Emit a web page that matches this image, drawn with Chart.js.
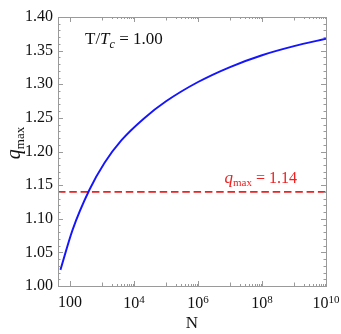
<!DOCTYPE html>
<html>
<head>
<meta charset="utf-8">
<script src="https://cdn.jsdelivr.net/npm/chart.js@4/dist/chart.umd.min.js"></script>
<style>
html,body{margin:0;padding:0;background:#fff;}
#wrap{position:relative;width:341px;height:334px;}
</style>
</head>
<body>
<div id="wrap"><canvas id="c" width="341" height="334"></canvas></div>
<script>
// ---- data ----
const nValues = [50, 120, 400, 1200, 4000, 2e4, 1e5, 1e6, 1e7, 1e8, 1e9, 1e10];
const qValues = [1.024, 1.0835, 1.1427, 1.1833, 1.2165, 1.2488, 1.2746, 1.3033, 1.3256, 1.3431, 1.3566, 1.3676];
const qThreshold = 1.14;
const xMin = 42, xMax = 1e10;
const yMin = 1.00, yMax = 1.40, yStep = 0.05;
const xTickValues = [100, 1e4, 1e6, 1e8, 1e10];
const xTickBase = ['100', '10', '10', '10', '10'];
const xTickExp = ['', '4', '6', '8', '10'];
const tempLabel = '1.00';

const serif = '"Liberation Serif", "Times New Roman", serif';
const RED = '#ee2020';
const FRAME = '#9a9a9a';
const TEXT = '#111';

function setFont(ctx, size, italic) {
  ctx.font = (italic ? 'italic ' : '') + size + 'px ' + serif;
}
function drawRich(ctx, parts, x, y) {
  let cx = x;
  for (const p of parts) {
    setFont(ctx, p[1], p[2]);
    ctx.fillText(p[0], cx, y + (p[3] || 0));
    cx += ctx.measureText(p[0]).width;
  }
  return cx - x;
}
function richWidth(ctx, parts) {
  let w = 0;
  for (const p of parts) {
    setFont(ctx, p[1], p[2]);
    w += ctx.measureText(p[0]).width;
  }
  return w;
}

const framePlugin = {
  id: 'framePlugin',
  afterDraw(chart) {
    const ctx = chart.ctx;
    const a = chart.chartArea;
    const xs = chart.scales.x, ys = chart.scales.y;
    ctx.save();
    ctx.strokeStyle = FRAME;
    ctx.lineWidth = 1;
    ctx.strokeRect(Math.round(a.left) + 0.5, Math.round(a.top) + 0.5, Math.round(a.right - a.left), Math.round(a.bottom - a.top));
    ctx.beginPath();
    // y ticks (major every 0.05, minor every 0.01)
    for (let k = 0; k <= Math.round((yMax - yMin) / 0.01); k++) {
      const v = yMin + k * 0.01;
      const len = (k % 5 === 0) ? 5 : 2.5;
      const py = Math.round(ys.getPixelForValue(v)) + 0.5;
      ctx.moveTo(a.left, py); ctx.lineTo(a.left + len, py);
      ctx.moveTo(a.right, py); ctx.lineTo(a.right - len, py);
    }
    // x ticks
    const xt = [];
    xTickValues.forEach(v => xt.push([v, 5]));
    for (const e of [3, 5, 7, 9]) {
      xt.push([Math.pow(10, e), 3.5]);
      for (let m = 2; m <= 9; m++) xt.push([m * Math.pow(10, e), 2]);
    }
    for (const [v, len] of xt) {
      if (v < xMin || v > xMax) continue;
      const px = Math.round(xs.getPixelForValue(v)) + 0.5;
      ctx.moveTo(px, a.bottom); ctx.lineTo(px, a.bottom - len);
      ctx.moveTo(px, a.top); ctx.lineTo(px, a.top + len);
    }
    ctx.stroke();

    ctx.textBaseline = 'alphabetic';
    ctx.textAlign = 'left';
    ctx.fillStyle = TEXT;
    // x tick labels
    xTickValues.forEach((v, i) => {
      const px = xs.getPixelForValue(v);
      if (!xTickExp[i]) {
        setFont(ctx, 16, false);
        const w = ctx.measureText(xTickBase[i]).width;
        ctx.fillText(xTickBase[i], px - w / 2, a.bottom + 20.5);
      } else {
        const parts = [[xTickBase[i], 16, false, 0], [xTickExp[i], 11, false, -5.5]];
        const w = richWidth(ctx, parts);
        drawRich(ctx, parts, px - w / 2, a.bottom + 22);
      }
    });

    // temperature annotation
    drawRich(ctx, [['T/', 17, false], ['T', 17, true], ['c', 12, true, 4], [' = ' + tempLabel, 17, false]], 85, 43.5);

    // threshold annotation
    ctx.fillStyle = RED;
    const redParts = [['q', 17, true], ['max', 11, false, 3], [' = ' + qThreshold.toFixed(2), 16, false]];
    const rw = richWidth(ctx, redParts);
    drawRich(ctx, redParts, 297 - rw, 183);

    // y axis title
    ctx.fillStyle = TEXT;
    const yParts = [['q', 20, true], ['max', 13, false, 3.5]];
    const yw = richWidth(ctx, yParts);
    ctx.translate(20, 143);
    ctx.rotate(-Math.PI / 2);
    drawRich(ctx, yParts, -yw / 2, 0);
    ctx.restore();
  }
};

new Chart(document.getElementById('c'), {
  type: 'line',
  data: {
    datasets: [
      {
        data: nValues.map((n, i) => ({ x: n, y: qValues[i] })),
        borderColor: '#1414ff',
        borderWidth: 1.9,
        pointRadius: 0,
        cubicInterpolationMode: 'monotone',
        fill: false
      },
      {
        data: [{ x: xMin, y: qThreshold }, { x: xMax, y: qThreshold }],
        borderColor: RED,
        borderWidth: 1.8,
        borderDash: [7.5, 3.8],
        pointRadius: 0,
        fill: false
      }
    ]
  },
  options: {
    responsive: false,
    animation: false,
    devicePixelRatio: 1,
    layout: { padding: { left: 0, right: 15, top: 17, bottom: 0 } },
    plugins: { legend: { display: false }, tooltip: { enabled: false }, title: { display: false } },
    scales: {
      x: {
        type: 'logarithmic',
        min: xMin, max: xMax,
        grid: { display: false, drawTicks: false },
        border: { display: false },
        afterBuildTicks(scale) { scale.ticks = xTickValues.map(v => ({ value: v })); },
        afterFit(scale) { scale.height = 48; scale.paddingLeft = 0; scale.paddingRight = 0; },
        ticks: { display: false },
        title: { display: true, text: 'N', color: TEXT, font: { family: serif, size: 17 }, padding: { top: 2, bottom: 0 } }
      },
      y: {
        type: 'linear',
        min: yMin, max: yMax,
        grid: { display: false, drawTicks: false },
        border: { display: false },
        afterFit(scale) { scale.width = 58; scale.paddingTop = 0; scale.paddingBottom = 0; },
        ticks: {
          stepSize: yStep, padding: 5, color: TEXT,
          font: { family: serif, size: 16 },
          callback: (v) => v.toFixed(2)
        }
      }
    }
  },
  plugins: [framePlugin]
});
</script>
</body>
</html>
